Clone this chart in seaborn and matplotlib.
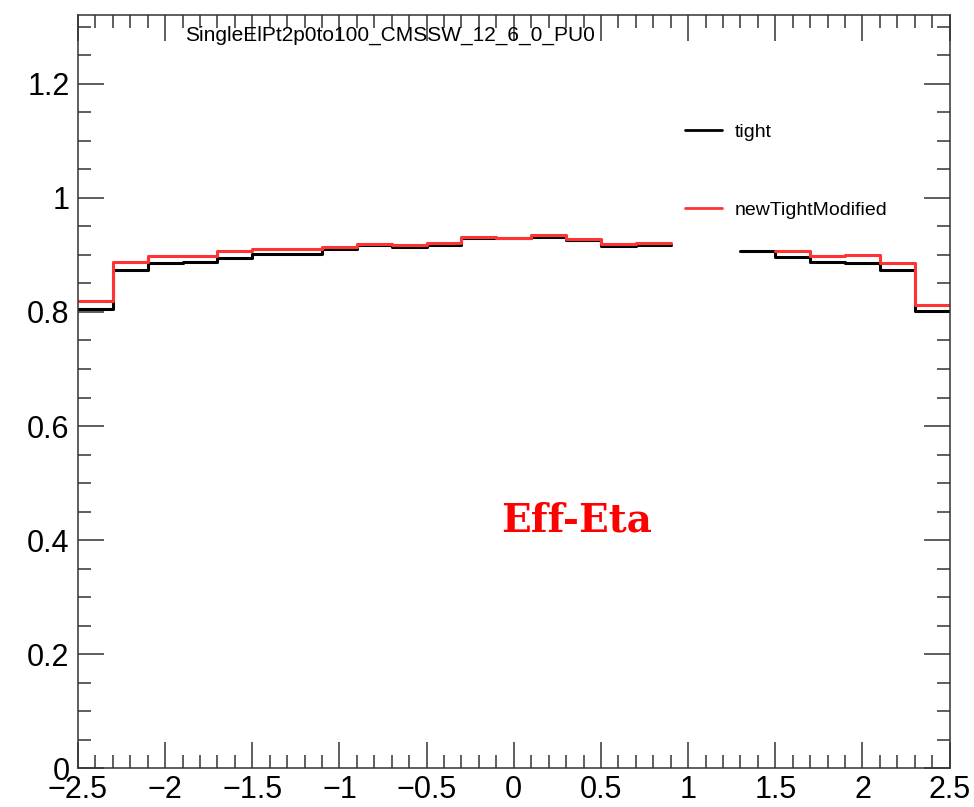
import numpy as np
import pandas as pd
import matplotlib
matplotlib.use("Agg")
import matplotlib.pyplot as plt
import seaborn as sns
from matplotlib.lines import Line2D
from matplotlib.ticker import MultipleLocator

# eta bin edges (0.2 wide) and efficiency per bin, nan = empty bin
eta_edges = [-2.5, -2.3, -2.1, -1.9, -1.7, -1.5, -1.3, -1.1, -0.9, -0.7, -0.5,
             -0.3, -0.1, 0.1, 0.3, 0.5, 0.7, 0.9, 1.1, 1.3, 1.5, 1.7, 1.9,
             2.1, 2.3, 2.5]
eff_tight = [0.805, 0.873, 0.885, 0.888, 0.894, 0.901, 0.901, 0.910, 0.917,
             0.914, 0.918, 0.929, 0.929, 0.932, 0.926, 0.915, 0.918,
             np.nan, np.nan, 0.9065, 0.897, 0.887, 0.8855, 0.873, 0.802]
eff_new = [0.820, 0.887, 0.898, 0.898, 0.9065, 0.9095, 0.9095, 0.913, 0.919,
           0.9165, 0.9205, 0.932, 0.930, 0.9345, 0.9275, 0.919, 0.920,
           np.nan, np.nan, np.nan, 0.9065, 0.898, 0.900, 0.8855, 0.813]
labels = ["tight", "newTightModified"]
title_text = "SingleElPt2p0to100_CMSSW_12_6_0_PU0"
x_ticks = [-2.5, -2, -1.5, -1, -0.5, 0, 0.5, 1, 1.5, 2, 2.5]
x_ticklabels = ["\u22122.5", "\u22122", "\u22121.5", "\u22121", "\u22120.5",
                "0", "0.5", "1", "1.5", "2", "2.5"]
y_ticks = [0, 0.2, 0.4, 0.6, 0.8, 1.0, 1.2]
y_ticklabels = ["0", "0.2", "0.4", "0.6", "0.8", "1", "1.2"]


def stair_frame(values):
    # turn bin contents into step outline points, new segment after each gap
    rows = []
    seg = 0
    for i, v in enumerate(values):
        if np.isnan(v):
            seg += 1
            continue
        rows.append({"eta": eta_edges[i], "eff": v, "seg": seg})
        rows.append({"eta": eta_edges[i + 1], "eff": v, "seg": seg})
    return pd.DataFrame(rows)


sns.set_style("ticks")
plt.rcParams["font.family"] = ["Liberation Sans", "DejaVu Sans"]
plt.rcParams["text.color"] = "black"

fig = plt.figure(figsize=(9.74, 8.07), dpi=100)
ax = fig.add_axes([0.080, 0.048, 0.895, 0.933])

red = "#ff3333"
sns.lineplot(data=stair_frame(eff_tight), x="eta", y="eff", units="seg",
             estimator=None, sort=False, color="black", lw=2.2, ax=ax)
sns.lineplot(data=stair_frame(eff_new), x="eta", y="eff", units="seg",
             estimator=None, sort=False, color=red, lw=2.2, ax=ax)

ax.set_xlim(-2.5, 2.5)
ax.set_ylim(0, 1.32)
ax.set_xlabel("")
ax.set_ylabel("")
ax.set_xticks(x_ticks)
ax.set_xticklabels(x_ticklabels)
ax.set_yticks(y_ticks)
ax.set_yticklabels(y_ticklabels)
ax.xaxis.set_minor_locator(MultipleLocator(0.1))
ax.yaxis.set_minor_locator(MultipleLocator(0.05))
ax.tick_params(which="both", direction="in", top=True, right=True,
               labelsize=22, width=1.1, color="#333333", labelcolor="black")
ax.tick_params(which="major", length=19)
ax.tick_params(which="minor", length=9.5)
ax.tick_params(axis="x", pad=5)
ax.tick_params(axis="y", pad=6)
for s in ax.spines.values():
    s.set_linewidth(1.1)
    s.set_color("#333333")

handles = [Line2D([], [], color="black", lw=2), Line2D([], [], color=red, lw=2)]
ax.legend(handles=handles, labels=labels, loc="upper left",
          bbox_to_anchor=(0.703, 0.847), bbox_transform=fig.transFigure,
          frameon=False, fontsize=14, labelspacing=3.1, handlelength=1.9,
          handletextpad=0.65, borderpad=0, borderaxespad=0)

fig.text(0.19, 0.956, title_text, fontsize=15, ha="left", va="center")
ax.text(0.36, 0.434, "Eff-Eta", color="red", fontsize=28, ha="center",
        va="center", family=["DejaVu Serif"], fontweight="semibold")

fig.savefig("out.png", dpi=100)
